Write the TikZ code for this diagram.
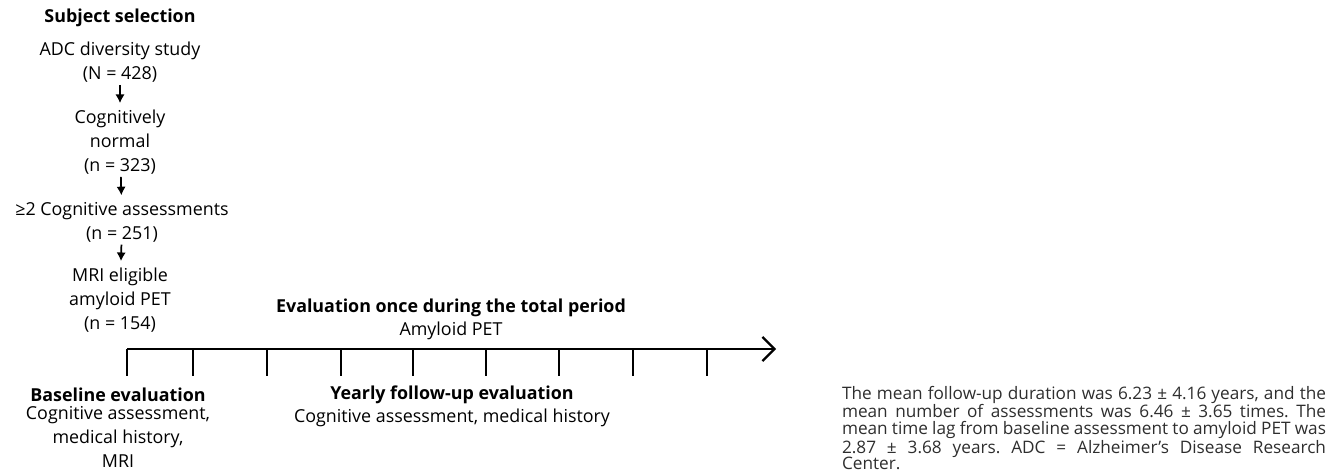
\documentclass[tikz,border=0pt]{standalone}
\usepackage{fontspec}
\setmainfont{Open Sans}
\usetikzlibrary{arrows.meta}
\begin{document}
\begin{tikzpicture}[x=0.75pt,y=-0.75pt,
  every node/.style={inner sep=0pt, outer sep=0pt, align=center, text=black},
  col/.style={font=\fontsize{13.4}{18}\selectfont},
  hdr/.style={font=\fontsize{13.4}{18}\selectfont\bfseries},
  flowarr/.style={-{Latex[length=6.5pt,width=7pt]}, line width=1.3pt, shorten >=5pt, shorten <=2pt},
  axis/.style={line width=1.6pt},
  tickln/.style={line width=1.6pt},
  note/.style={font=\fontsize{12.9}{12.6}\selectfont\frenchspacing, text=black!82, text width=363pt, align=justify, anchor=west}
]
\useasboundingbox (0,0) rectangle (1336,474);
% subject selection column
\node[hdr] (title) at (120,18) {Subject selection};
\node[col] (n1) at (120,62) {ADC diversity study\\(N = 428)};
\node[col] (n2) at (120,142) {Cognitively\\normal\\(n = 323)};
\node[col] (n3) at (122,222) {≥2 Cognitive assessments\\(n = 251)};
\node[col] (n4) at (120,300) {MRI eligible\\amyloid PET\\(n = 154)};
\draw[flowarr] (n1) -- (n2);
\draw[flowarr] (n2) -- (n3);
\draw[flowarr] (n3) -- (n4);
% timeline
\coordinate (t0) at (127,349);
\coordinate (tend) at (776,349);
\draw[axis, -{Straight Barb[length=9pt,width=18pt,line width=1.6pt]}] (t0) -- (tend);
\foreach \i/\x in {0/127,1/193,2/267,3/341,4/413,5/486,6/559,7/633,8/707}{
  \coordinate (tk\i) at (\x,349);
  \coordinate (tb\i) at (\x,376);
  \draw[tickln] (tk\i) -- (tb\i);
}
\node[hdr] (evalonce) at (451,308) {Evaluation once during the total period};
\node[col] (amy) at (451,331) {Amyloid PET};
\node[hdr] (base) at (118,395) {Baseline evaluation};
\node[col, anchor=north] (basetxt) at (118,406) {Cognitive assessment,\\medical history,\\MRI};
\node[hdr] (yearly) at (452,395) {Yearly follow-up evaluation};
\node[col] (yearlytxt) at (452,418) {Cognitive assessment, medical history};
% note
\node[note] (note) at (842,428) {The mean follow-up duration was 6.23 ± 4.16 years, and the\linebreak mean number of assessments was 6.46 ± 3.65 times. The\linebreak mean time lag from baseline assessment to amyloid PET was\linebreak 2.87 ± 3.68 years. ADC = Alzheimer’s Disease Research\linebreak Center.};
\end{tikzpicture}
\end{document}
